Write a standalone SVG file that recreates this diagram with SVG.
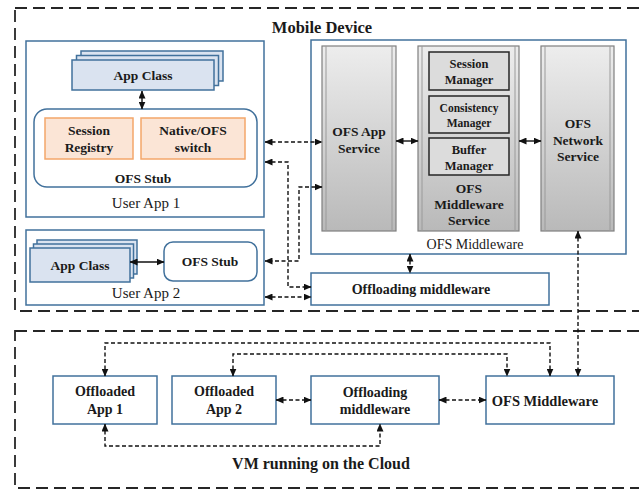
<svg xmlns="http://www.w3.org/2000/svg" width="639" height="489" viewBox="0 0 639 489">
<style>
text{font-family:"Liberation Serif","Times New Roman",serif;fill:#1a1a1a;text-anchor:middle}
.b{font-weight:bold}
.region{fill:none;stroke:#262626;stroke-width:1.8;stroke-dasharray:12 6}
.box{fill:#fff;stroke:#41719c;stroke-width:1.5}
.cls{fill:#dae3f0;stroke:#41719c;stroke-width:1.5}
.org{fill:#fbe5d6;stroke:#f4a66a;stroke-width:1.5}
.pil{fill:url(#pg);stroke:#7f7f7f;stroke-width:1.2}
.pin{stroke:#9a9a9a;stroke-width:1}
.mgr{fill:#dcdcdc;stroke:#262626;stroke-width:1.5}
.dc{fill:none;stroke:#111;stroke-width:1.4;stroke-dasharray:4 2.5;marker-start:url(#ah);marker-end:url(#ah)}
.sc{fill:none;stroke:#111;stroke-width:1.4;marker-start:url(#ah);marker-end:url(#ah)}
</style>
<defs>
<linearGradient id="pg" x1="0" y1="0" x2="0" y2="1">
<stop offset="0" stop-color="#ededed"/>
<stop offset="1" stop-color="#b9b9b9"/>
</linearGradient>
<marker id="ah" markerUnits="userSpaceOnUse" markerWidth="8" markerHeight="7" refX="7.5" refY="3.5" orient="auto-start-reverse">
<path d="M0,0 L8,3.5 L0,7 z" fill="#111"/>
</marker>
</defs>

<!-- regions -->
<g id="mobile-device">
<rect class="region" x="15" y="8" width="640" height="303"/>
<text class="b" x="322" y="33" font-size="16.5">Mobile Device</text>
</g>
<g id="cloud-vm">
<rect class="region" x="15" y="331" width="640" height="157"/>
<text class="b" x="321" y="469" font-size="16">VM running on the Cloud</text>
</g>

<!-- User App 1 -->
<g id="user-app-1">
<rect class="box" x="26" y="41" width="238" height="176"/>
<text x="146" y="208" font-size="15">User App 1</text>
</g>
<g id="app-class-1">
<rect class="cls" x="81" y="51" width="142" height="30"/>
<rect class="cls" x="76.5" y="55.5" width="142" height="30"/>
<rect class="cls" x="72" y="60" width="142" height="30"/>
<text class="b" x="143" y="80" font-size="13.5">App Class</text>
</g>
<g id="ofs-stub-1">
<rect class="box" x="34" y="109" width="223" height="78" rx="13"/>
<text class="b" x="143" y="183" font-size="13.5">OFS Stub</text>
</g>
<g id="session-registry">
<rect class="org" x="45" y="118" width="88" height="41"/>
<text class="b" x="89" y="135" font-size="13.5">Session</text>
<text class="b" x="89" y="152" font-size="13.5">Registry</text>
</g>
<g id="native-ofs-switch">
<rect class="org" x="141" y="118" width="104" height="41"/>
<text class="b" x="193" y="135" font-size="13.5">Native/OFS</text>
<text class="b" x="193" y="152" font-size="13.5">switch</text>
</g>

<!-- User App 2 -->
<g id="user-app-2">
<rect class="box" x="26" y="230" width="238" height="75"/>
<text x="146" y="298" font-size="15">User App 2</text>
</g>
<g id="app-class-2">
<rect class="cls" x="37" y="240" width="100" height="34"/>
<rect class="cls" x="33.5" y="244" width="100" height="34"/>
<rect class="cls" x="30" y="248" width="100" height="34"/>
<text class="b" x="80" y="270" font-size="13.5">App Class</text>
</g>
<g id="ofs-stub-2">
<rect class="box" x="164" y="242" width="93" height="39" rx="9"/>
<text class="b" x="210" y="266" font-size="13.5">OFS Stub</text>
</g>

<!-- OFS Middleware (mobile) -->
<g id="ofs-middleware-mobile">
<rect class="box" x="311" y="40" width="315" height="214"/>
<text x="475" y="249" font-size="14">OFS Middleware</text>
</g>
<g id="ofs-app-service">
<rect class="pil" x="322" y="46" width="74" height="185"/>
<line class="pin" x1="326" y1="46" x2="326" y2="231"/>
<line class="pin" x1="392" y1="46" x2="392" y2="231"/>
<text class="b" x="359" y="136" font-size="13.5">OFS App</text>
<text class="b" x="359" y="153" font-size="13.5">Service</text>
</g>
<g id="ofs-middleware-service">
<rect class="pil" x="418" y="46" width="101" height="185"/>
<line class="pin" x1="422" y1="46" x2="422" y2="231"/>
<line class="pin" x1="515" y1="46" x2="515" y2="231"/>
<text class="b" x="469" y="193" font-size="13.5">OFS</text>
<text class="b" x="469" y="209" font-size="13.5">Middleware</text>
<text class="b" x="469" y="225" font-size="13.5">Service</text>
</g>
<g id="session-manager">
<rect class="mgr" x="429" y="52" width="80" height="38"/>
<text class="b" x="469" y="68" font-size="12.5">Session</text>
<text class="b" x="469" y="84" font-size="12.5">Manager</text>
</g>
<g id="consistency-manager">
<rect class="mgr" x="429" y="96" width="80" height="37"/>
<text class="b" x="469" y="112" font-size="11.5">Consistency</text>
<text class="b" x="469" y="127" font-size="11.5">Manager</text>
</g>
<g id="buffer-manager">
<rect class="mgr" x="429" y="138" width="80" height="37"/>
<text class="b" x="469" y="154" font-size="12.5">Buffer</text>
<text class="b" x="469" y="170" font-size="12.5">Manager</text>
</g>
<g id="ofs-network-service">
<rect class="pil" x="541" y="46" width="73" height="185"/>
<line class="pin" x1="545" y1="46" x2="545" y2="231"/>
<line class="pin" x1="610" y1="46" x2="610" y2="231"/>
<text class="b" x="578" y="128" font-size="13.5">OFS</text>
<text class="b" x="578" y="145" font-size="13.5">Network</text>
<text class="b" x="578" y="161" font-size="13.5">Service</text>
</g>
<g id="offloading-middleware-mobile">
<rect class="box" x="311" y="273" width="238" height="32"/>
<text class="b" x="421" y="294" font-size="14">Offloading middleware</text>
</g>

<!-- Cloud nodes -->
<g id="offloaded-app-1">
<rect class="box" x="53" y="376" width="104" height="48"/>
<text class="b" x="105" y="396" font-size="14">Offloaded</text>
<text class="b" x="105" y="414" font-size="14">App 1</text>
</g>
<g id="offloaded-app-2">
<rect class="box" x="172" y="376" width="104" height="48"/>
<text class="b" x="224" y="396" font-size="14">Offloaded</text>
<text class="b" x="224" y="414" font-size="14">App 2</text>
</g>
<g id="offloading-middleware-cloud">
<rect class="box" x="311" y="376" width="128" height="48"/>
<text class="b" x="375" y="397" font-size="14">Offloading</text>
<text class="b" x="375" y="414" font-size="14">middleware</text>
</g>
<g id="ofs-middleware-cloud">
<rect class="box" x="486" y="376" width="128" height="48"/>
<text class="b" x="545" y="406" font-size="14.5">OFS Middleware</text>
</g>

<!-- connectors -->
<g id="connectors">
<path class="sc" d="M142,91 V109"/>
<path class="sc" d="M130,262 H164"/>
<path class="sc" d="M396,141 H418"/>
<path class="sc" d="M519,141 H541"/>
<path class="dc" d="M265,142 H322"/>
<path class="dc" d="M265,162 H288 V287 H311"/>
<path class="dc" d="M322,187 H299 V261 H265"/>
<path class="dc" d="M265,297 H311"/>
<path class="dc" d="M410,254 V273"/>
<path class="dc" d="M578,231 V376"/>
<path class="dc" d="M276,400 H311"/>
<path class="dc" d="M439,400 H486"/>
<path class="dc" d="M105,376 V343 H550 V376"/>
<path class="dc" d="M233,376 V354 H507 V376"/>
<path class="dc" d="M105,424 V446 H380 V424"/>
</g>
</svg>
